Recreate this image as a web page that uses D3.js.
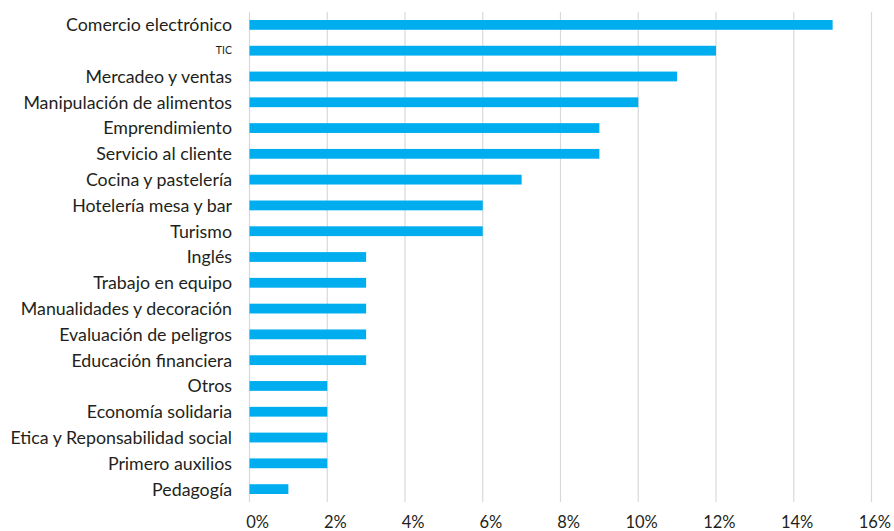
<!DOCTYPE html>
<html>
<head>
<meta charset="utf-8">
<script src="https://cdn.jsdelivr.net/npm/d3@7"></script>
<style>
  html, body { margin: 0; padding: 0; background: #fff; }
  svg { display: block; font-family: Lato, "Open Sans", sans-serif; }
</style>
</head>
<body>
<svg id="chart" width="894" height="531"></svg>
<script>
// Training topics and share of respondents (%)
const categories = [
  "Comercio electrónico", "TIC", "Mercadeo y ventas", "Manipulación de alimentos",
  "Emprendimiento", "Servicio al cliente", "Cocina y pastelería", "Hotelería mesa y bar",
  "Turismo", "Inglés", "Trabajo en equipo", "Manualidades y decoración",
  "Evaluación de peligros", "Educación financiera", "Otros", "Economía solidaria",
  "Etica y Reponsabilidad social", "Primero auxilios", "Pedagogía"
];
const values = [15, 12, 11, 10, 9, 9, 7, 6, 6, 3, 3, 3, 3, 3, 2, 2, 2, 2, 1];
const tickValues = [0, 2, 4, 6, 8, 10, 12, 14, 16];

const svg = d3.select("#chart");
const plotLeft = 249.5, plotRight = 871.5, plotTop = 12, plotBottom = 502;

const x = d3.scaleLinear().domain([0, 16]).range([plotLeft, plotRight]);
const y = d3.scaleBand().domain(categories).range([plotTop, plotBottom]).paddingInner(0.62).paddingOuter(0.31);

// vertical gridlines
svg.append("g").selectAll("line").data(tickValues).join("line")
  .attr("x1", d => x(d)).attr("x2", d => x(d))
  .attr("y1", plotTop).attr("y2", plotBottom)
  .attr("stroke", "#d9d9d9").attr("stroke-width", 1.2);

// bars
svg.append("g").selectAll("rect").data(values).join("rect")
  .attr("x", x(0))
  .attr("y", (d, i) => y(categories[i]))
  .attr("width", d => x(d) - x(0))
  .attr("height", y.bandwidth())
  .attr("fill", "#00aeef");

// category labels
svg.append("g").selectAll("text").data(categories).join("text")
  .attr("x", 232)
  .attr("y", d => y(d) + y.bandwidth() / 2)
  .attr("dy", "0.36em")
  .attr("text-anchor", "end")
  .attr("fill", "#231f20")
  .style("font-size", d => d === "TIC" ? "10.5px" : "17.8px")
  .text(d => d);

// x axis tick labels
svg.append("g").selectAll("text").data(tickValues).join("text")
  .attr("x", d => x(d) + 19.5)
  .attr("y", 528)
  .attr("text-anchor", "end")
  .attr("fill", "#231f20")
  .style("font-size", "16.5px")
  .text(d => d + "%");
</script>
</body>
</html>
